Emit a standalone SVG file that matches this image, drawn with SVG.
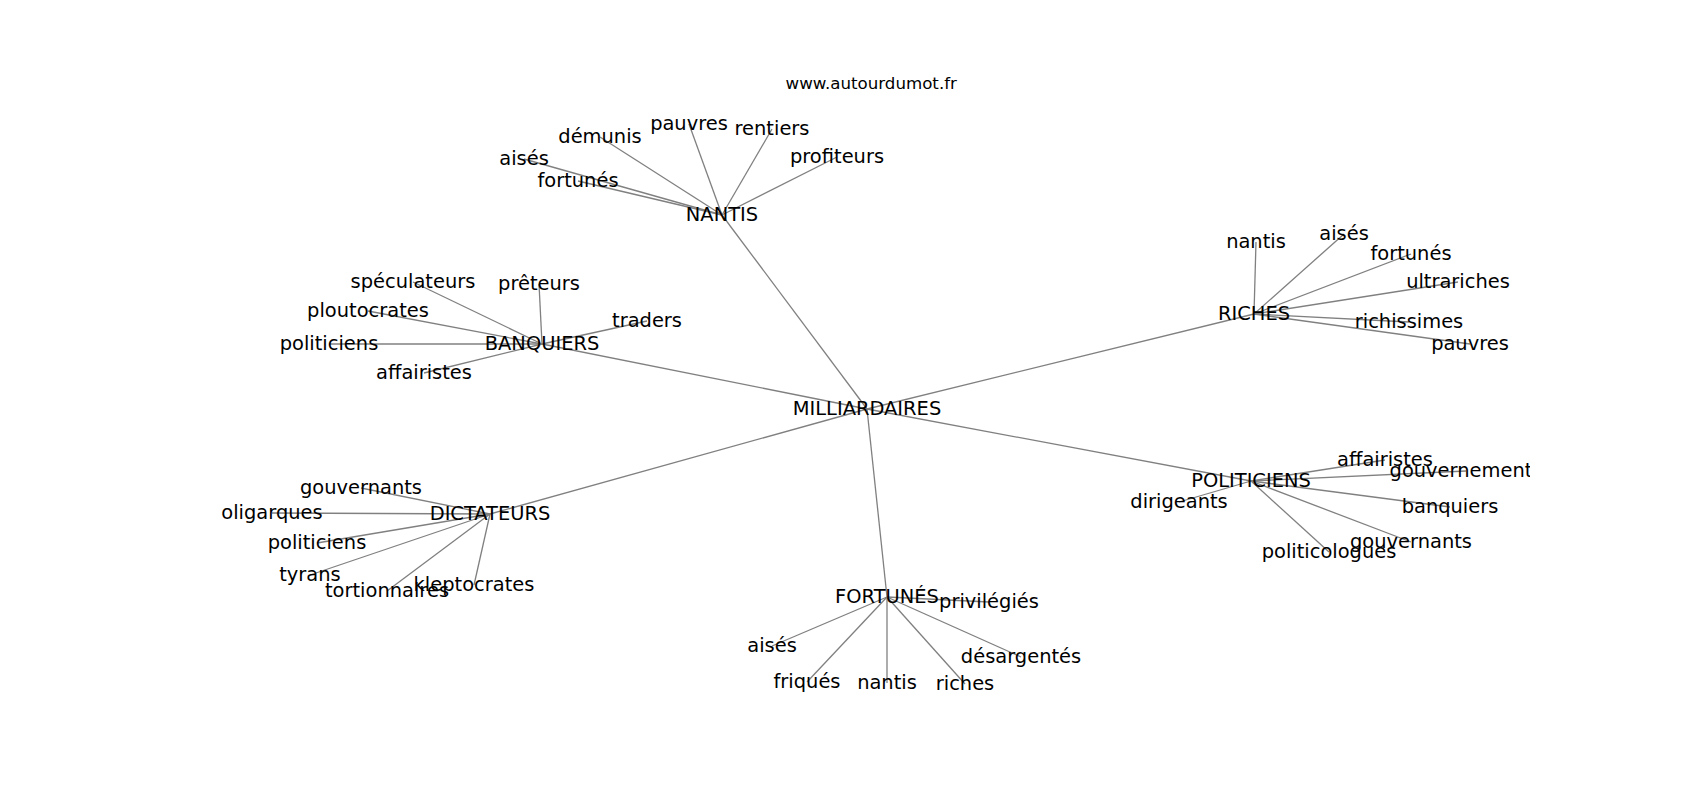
<svg xmlns="http://www.w3.org/2000/svg" width="1700" height="800" viewBox="0 0 1700 800">
<style>
text{font-family:"DejaVu Sans",sans-serif;fill:#000}
.l{font-size:19.44px;text-anchor:middle}
.t{font-size:16.67px;text-anchor:middle}
.e line{stroke:#808080;stroke-width:1.3}
</style>
<defs><clipPath id="ax"><rect x="212.5" y="96" width="1317.5" height="608"/></clipPath></defs>
<rect width="1700" height="800" fill="#fff"/>
<text class="t" x="871.25" y="88.5">www.autourdumot.fr</text>
<g clip-path="url(#ax)">
<g id="connectors" class="e">
<line x1="867" y1="409" x2="722" y2="215"/>
<line x1="867" y1="409" x2="542" y2="344"/>
<line x1="867" y1="409" x2="1254" y2="314"/>
<line x1="867" y1="409" x2="1251" y2="481"/>
<line x1="867" y1="409" x2="490" y2="514"/>
<line x1="867" y1="409" x2="887" y2="597"/>
<line x1="722" y1="215" x2="524" y2="159"/>
<line x1="722" y1="215" x2="578" y2="181"/>
<line x1="722" y1="215" x2="600" y2="137"/>
<line x1="722" y1="215" x2="689" y2="124"/>
<line x1="722" y1="215" x2="772" y2="129"/>
<line x1="722" y1="215" x2="837" y2="157"/>
<line x1="542" y1="344" x2="413" y2="282"/>
<line x1="542" y1="344" x2="539" y2="284"/>
<line x1="542" y1="344" x2="368" y2="311"/>
<line x1="542" y1="344" x2="329" y2="344"/>
<line x1="542" y1="344" x2="424" y2="373"/>
<line x1="542" y1="344" x2="647" y2="321"/>
<line x1="1254" y1="314" x2="1256" y2="242"/>
<line x1="1254" y1="314" x2="1344" y2="234"/>
<line x1="1254" y1="314" x2="1411" y2="254"/>
<line x1="1254" y1="314" x2="1458" y2="282"/>
<line x1="1254" y1="314" x2="1409" y2="322"/>
<line x1="1254" y1="314" x2="1470" y2="344"/>
<line x1="1251" y1="481" x2="1385" y2="460"/>
<line x1="1251" y1="481" x2="1466" y2="471"/>
<line x1="1251" y1="481" x2="1450" y2="507"/>
<line x1="1251" y1="481" x2="1411" y2="542"/>
<line x1="1251" y1="481" x2="1329" y2="552"/>
<line x1="1251" y1="481" x2="1179" y2="502"/>
<line x1="490" y1="514" x2="361" y2="488"/>
<line x1="490" y1="514" x2="272" y2="513"/>
<line x1="490" y1="514" x2="317" y2="543"/>
<line x1="490" y1="514" x2="310" y2="575"/>
<line x1="490" y1="514" x2="387" y2="591"/>
<line x1="490" y1="514" x2="474" y2="585"/>
<line x1="887" y1="597" x2="989" y2="602"/>
<line x1="887" y1="597" x2="772" y2="646"/>
<line x1="887" y1="597" x2="807" y2="682"/>
<line x1="887" y1="597" x2="887" y2="683"/>
<line x1="887" y1="597" x2="965" y2="684"/>
<line x1="887" y1="597" x2="1021" y2="657"/>
</g>
<g id="n-milliardaires"><text class="l" x="867" y="415">MILLIARDAIRES</text></g>
<g id="n-nantis"><text class="l" x="722" y="221">NANTIS</text></g>
<g id="n-nantis-aises"><text class="l" x="524" y="165">aisés</text></g>
<g id="n-nantis-fortunes"><text class="l" x="578" y="187">fortunés</text></g>
<g id="n-nantis-demunis"><text class="l" x="600" y="143">démunis</text></g>
<g id="n-nantis-pauvres"><text class="l" x="689" y="130">pauvres</text></g>
<g id="n-nantis-rentiers"><text class="l" x="772" y="135">rentiers</text></g>
<g id="n-nantis-profiteurs"><text class="l" x="837" y="163">profiteurs</text></g>
<g id="n-banquiers"><text class="l" x="542" y="350">BANQUIERS</text></g>
<g id="n-banquiers-speculateurs"><text class="l" x="413" y="288">spéculateurs</text></g>
<g id="n-banquiers-preteurs"><text class="l" x="539" y="290">prêteurs</text></g>
<g id="n-banquiers-ploutocrates"><text class="l" x="368" y="317">ploutocrates</text></g>
<g id="n-banquiers-politiciens"><text class="l" x="329" y="350">politiciens</text></g>
<g id="n-banquiers-affairistes"><text class="l" x="424" y="379">affairistes</text></g>
<g id="n-banquiers-traders"><text class="l" x="647" y="327">traders</text></g>
<g id="n-riches"><text class="l" x="1254" y="320">RICHES</text></g>
<g id="n-riches-nantis"><text class="l" x="1256" y="248">nantis</text></g>
<g id="n-riches-aises"><text class="l" x="1344" y="240">aisés</text></g>
<g id="n-riches-fortunes"><text class="l" x="1411" y="260">fortunés</text></g>
<g id="n-riches-ultrariches"><text class="l" x="1458" y="288">ultrariches</text></g>
<g id="n-riches-richissimes"><text class="l" x="1409" y="328">richissimes</text></g>
<g id="n-riches-pauvres"><text class="l" x="1470" y="350">pauvres</text></g>
<g id="n-politiciens"><text class="l" x="1251" y="487">POLITICIENS</text></g>
<g id="n-politiciens-affairistes"><text class="l" x="1385" y="466">affairistes</text></g>
<g id="n-politiciens-gouvernements"><text class="l" x="1466" y="477">gouvernements</text></g>
<g id="n-politiciens-banquiers"><text class="l" x="1450" y="513">banquiers</text></g>
<g id="n-politiciens-gouvernants"><text class="l" x="1411" y="548">gouvernants</text></g>
<g id="n-politiciens-politicologues"><text class="l" x="1329" y="558">politicologues</text></g>
<g id="n-politiciens-dirigeants"><text class="l" x="1179" y="508">dirigeants</text></g>
<g id="n-dictateurs"><text class="l" x="490" y="520">DICTATEURS</text></g>
<g id="n-dictateurs-gouvernants"><text class="l" x="361" y="494">gouvernants</text></g>
<g id="n-dictateurs-oligarques"><text class="l" x="272" y="519">oligarques</text></g>
<g id="n-dictateurs-politiciens"><text class="l" x="317" y="549">politiciens</text></g>
<g id="n-dictateurs-tyrans"><text class="l" x="310" y="581">tyrans</text></g>
<g id="n-dictateurs-tortionnaires"><text class="l" x="387" y="597">tortionnaires</text></g>
<g id="n-dictateurs-kleptocrates"><text class="l" x="474" y="591">kleptocrates</text></g>
<g id="n-fortunes"><text class="l" x="887" y="603">FORTUNÉS</text></g>
<g id="n-fortunes-privilegies"><text class="l" x="989" y="608">privilégiés</text></g>
<g id="n-fortunes-aises"><text class="l" x="772" y="652">aisés</text></g>
<g id="n-fortunes-friques"><text class="l" x="807" y="688">friqués</text></g>
<g id="n-fortunes-nantis"><text class="l" x="887" y="689">nantis</text></g>
<g id="n-fortunes-riches"><text class="l" x="965" y="690">riches</text></g>
<g id="n-fortunes-desargentes"><text class="l" x="1021" y="663">désargentés</text></g>
</g>
</svg>
